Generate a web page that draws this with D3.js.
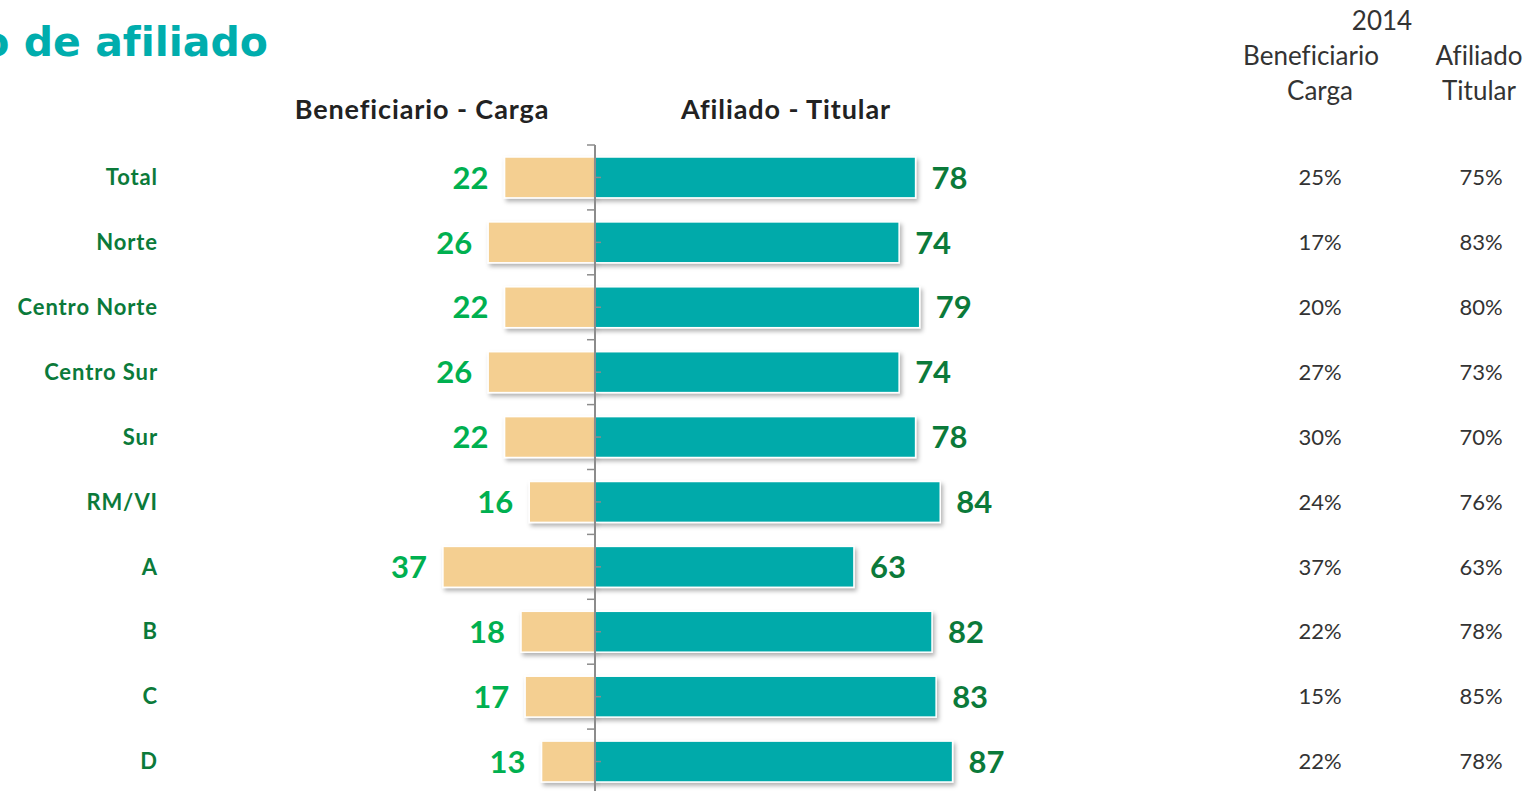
<!DOCTYPE html>
<html>
<head>
<meta charset="utf-8">
<script src="https://cdn.jsdelivr.net/npm/d3@7"></script>
<style>
  body { margin: 0; background: #fff; overflow: hidden; }
  svg { display: block; font-family: Lato, "Open Sans", sans-serif; font-variant-ligatures: none; }
</style>
</head>
<body>
<svg id="chart" width="1527" height="791"></svg>
<script>
// rows of the chart
var categories = ["Total", "Norte", "Centro Norte", "Centro Sur", "Sur", "RM/VI", "A", "B", "C", "D"];
// current values (%)
var carga = [22, 26, 22, 26, 22, 16, 37, 18, 17, 13];
var titular = [78, 74, 79, 74, 78, 84, 63, 82, 83, 87];
// 2014 comparison table (%)
var carga2014 = [25, 17, 20, 27, 30, 24, 37, 22, 15, 22];
var titular2014 = [75, 83, 80, 73, 70, 76, 63, 78, 85, 78];

var rows = categories.map(function (c, i) {
  return { cat: c, carga: carga[i], titular: titular[i], c14: carga2014[i], t14: titular2014[i] };
});

var svg = d3.select("#chart");
var zero = 595;

var x = d3.scaleLinear().domain([-100, 100]).range([zero - 411, zero + 411]);
var y = d3.scaleBand().domain(categories).range([145, 794]).paddingInner(0.37).paddingOuter(0.185);

// drop shadow for the bars
var defs = svg.append("defs");
defs.append("filter").attr("id", "shadow")
  .attr("x", "-10%").attr("y", "-20%").attr("width", "120%").attr("height", "160%")
  .append("feDropShadow")
  .attr("dx", 2).attr("dy", 3).attr("stdDeviation", 2)
  .attr("flood-color", "#000").attr("flood-opacity", 0.3);

// title (partly cut off on the left, as in the slide)
svg.append("text")
  .attr("x", 268).attr("y", 56)
  .attr("text-anchor", "end")
  .style("font-family", "'DejaVu Sans', sans-serif")
  .style("font-size", "41px").style("font-weight", 700)
  .style("fill", "#00adad")
  .text("Tipo de afiliado");

// column headers
svg.append("text").attr("x", 422).attr("y", 119).attr("text-anchor", "middle")
  .style("font-size", "27px").style("font-weight", 700).style("fill", "#222")
  .style("letter-spacing", "0.9px")
  .text("Beneficiario - Carga");
svg.append("text").attr("x", 786).attr("y", 119).attr("text-anchor", "middle")
  .style("font-size", "27px").style("font-weight", 700).style("fill", "#222")
  .style("letter-spacing", "0.9px")
  .text("Afiliado - Titular");

// bars
var g = svg.append("g");

g.selectAll("rect.carga")
  .data(rows).enter().append("rect")
  .attr("class", "carga")
  .attr("x", function (d) { return x(-d.carga); })
  .attr("y", function (d) { return y(d.cat); })
  .attr("width", function (d) { return zero - x(-d.carga); })
  .attr("height", y.bandwidth())
  .style("fill", "#f4cf91").style("stroke", "#fff").style("stroke-width", 1.5)
  .attr("filter", "url(#shadow)");

g.selectAll("rect.titular")
  .data(rows).enter().append("rect")
  .attr("class", "titular")
  .attr("x", zero)
  .attr("y", function (d) { return y(d.cat); })
  .attr("width", function (d) { return x(d.titular) - zero; })
  .attr("height", y.bandwidth())
  .style("fill", "#00aaaa").style("stroke", "#fff").style("stroke-width", 1.5)
  .attr("filter", "url(#shadow)");

// axis line with ticks
var axis = svg.append("g").style("stroke", "#8c8c8c");
axis.append("line").attr("x1", zero).attr("x2", zero).attr("y1", 145).attr("y2", 800)
  .style("stroke-width", 2);
var bounds = categories.map(function (c) { return y(c) - y.step() * y.paddingInner() / 2; });
axis.selectAll("line.minor").data(bounds).enter().append("line")
  .attr("x1", zero - 8).attr("x2", zero)
  .attr("y1", function (d) { return d; }).attr("y2", function (d) { return d; })
  .style("stroke-width", 1.5);
axis.selectAll("line.major").data(categories).enter().append("line")
  .attr("x1", zero).attr("x2", zero + 6)
  .attr("y1", function (d) { return y(d) + y.bandwidth() / 2; })
  .attr("y2", function (d) { return y(d) + y.bandwidth() / 2; })
  .style("stroke-width", 1.5);

function cy(d) { return y(d.cat) + y.bandwidth() / 2; }

// category labels
svg.selectAll("text.cat").data(rows).enter().append("text")
  .attr("x", 158).attr("y", cy).attr("dy", "0.35em")
  .attr("text-anchor", "end")
  .style("font-size", "22px").style("font-weight", 700).style("fill", "#0b7a3a")
  .style("letter-spacing", "0.9px")
  .text(function (d) { return d.cat; });

// value labels
svg.selectAll("text.vc").data(rows).enter().append("text")
  .attr("x", function (d) { return x(-d.carga) - 16; }).attr("y", cy).attr("dy", "0.36em")
  .attr("text-anchor", "end")
  .style("font-size", "31px").style("font-weight", 700).style("fill", "#00b050")
  .text(function (d) { return d.carga; });

svg.selectAll("text.vt").data(rows).enter().append("text")
  .attr("x", function (d) { return x(d.titular) + 16; }).attr("y", cy).attr("dy", "0.36em")
  .style("font-size", "31px").style("font-weight", 700).style("fill", "#0b7a3a")
  .text(function (d) { return d.titular; });

// 2014 table
var tbl = svg.append("g").style("font-size", "26px").style("fill", "#333").attr("text-anchor", "middle");
tbl.append("text").attr("x", 1382).attr("y", 30).text("2014");
tbl.append("text").attr("x", 1311).attr("y", 65).text("Beneficiario");
tbl.append("text").attr("x", 1320).attr("y", 100).text("Carga");
tbl.append("text").attr("x", 1479).attr("y", 65).text("Afiliado");
tbl.append("text").attr("x", 1479).attr("y", 100).text("Titular");

tbl.selectAll("text.c14").data(rows).enter().append("text")
  .attr("x", 1320).attr("y", cy).attr("dy", "0.35em")
  .style("font-size", "22px")
  .text(function (d) { return d.c14 + "%"; });
tbl.selectAll("text.t14").data(rows).enter().append("text")
  .attr("x", 1481).attr("y", cy).attr("dy", "0.35em")
  .style("font-size", "22px")
  .text(function (d) { return d.t14 + "%"; });
</script>
</body>
</html>
